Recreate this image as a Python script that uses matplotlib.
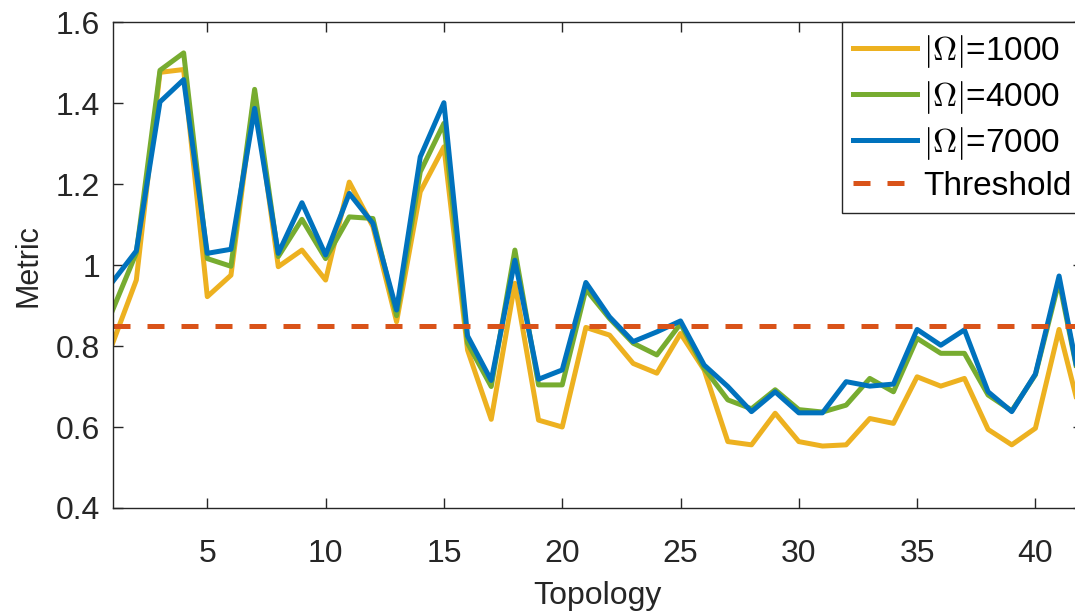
import numpy as np
import matplotlib.pyplot as plt

plt.rcParams['font.family'] = ['Liberation Sans', 'DejaVu Sans']
plt.rcParams['mathtext.fontset'] = 'cm'

# Data
topology = np.arange(1, 43)
omega_1000 = [0.807, 0.963, 1.476, 1.483, 0.922, 0.975, 1.425, 0.996, 1.037, 0.963,
              1.205, 1.095, 0.860, 1.181, 1.292, 0.790, 0.619, 0.955, 0.617, 0.600,
              0.846, 0.827, 0.757, 0.733, 0.831, 0.741, 0.564, 0.556, 0.634, 0.564,
              0.553, 0.556, 0.621, 0.609, 0.724, 0.701, 0.720, 0.594, 0.556, 0.597,
              0.841, 0.610]
omega_4000 = [0.889, 1.030, 1.481, 1.524, 1.016, 0.997, 1.434, 1.021, 1.113, 1.016,
              1.119, 1.115, 0.875, 1.230, 1.350, 0.807, 0.700, 1.037, 0.704, 0.704,
              0.940, 0.868, 0.807, 0.778, 0.855, 0.745, 0.667, 0.645, 0.692, 0.643,
              0.637, 0.654, 0.720, 0.687, 0.819, 0.782, 0.782, 0.679, 0.640, 0.729,
              0.960, 0.670]
omega_7000 = [0.959, 1.035, 1.403, 1.458, 1.029, 1.039, 1.387, 1.029, 1.154, 1.025,
              1.177, 1.103, 0.889, 1.267, 1.401, 0.825, 0.715, 1.012, 0.718, 0.741,
              0.957, 0.872, 0.811, 0.835, 0.862, 0.753, 0.700, 0.638, 0.687, 0.635,
              0.635, 0.712, 0.701, 0.706, 0.841, 0.802, 0.840, 0.687, 0.638, 0.731,
              0.973, 0.670]
threshold = 0.85

fig = plt.figure(figsize=(10.75, 6.15), dpi=100)
# right edge of the axes runs past the figure (the original is cropped)
ax = fig.add_axes([0.1048, 0.174, 0.9024, 0.790])

ax.plot(topology, omega_1000, color='#EDB120', lw=3.6, label=r'$|\Omega|$=1000')
ax.plot(topology, omega_4000, color='#77AC30', lw=3.6, label=r'$|\Omega|$=4000')
ax.plot(topology, omega_7000, color='#0072BD', lw=3.6, label=r'$|\Omega|$=7000')
ax.axhline(threshold, color='#D95319', lw=3.6, dashes=(3.4, 3.4), label='Threshold')

ax.set_xlim(1, 42)
ax.set_ylim(0.4, 1.6)
ax.set_xticks(range(5, 41, 5))
yt = [0.4, 0.6, 0.8, 1.0, 1.2, 1.4, 1.6]
ax.set_yticks(yt)
ax.set_yticklabels(['0.4', '0.6', '0.8', '1', '1.2', '1.4', '1.6'])
ax.tick_params(direction='in', top=True, right=True, length=7, width=1,
               labelsize=23, colors='#262626')
ax.tick_params(axis='x', pad=22)
ax.tick_params(axis='y', pad=9)
for s in ax.spines.values():
    s.set_color('#262626')
    s.set_linewidth(1)

ax.set_xlabel('Topology', fontsize=23, color='#262626', labelpad=9)
ax.set_ylabel('Metric', fontsize=22, color='#262626', labelpad=9)

leg = ax.legend(loc='upper right', bbox_to_anchor=(1, 1), borderaxespad=0,
                fontsize=24, handlelength=1.9, handletextpad=0.2,
                labelspacing=0.27, borderpad=0.33, fancybox=False)
leg.get_frame().set_edgecolor('#262626')
leg.get_frame().set_linewidth(1)
leg.get_frame().set_alpha(1)

fig.savefig('out.png', dpi=100)
